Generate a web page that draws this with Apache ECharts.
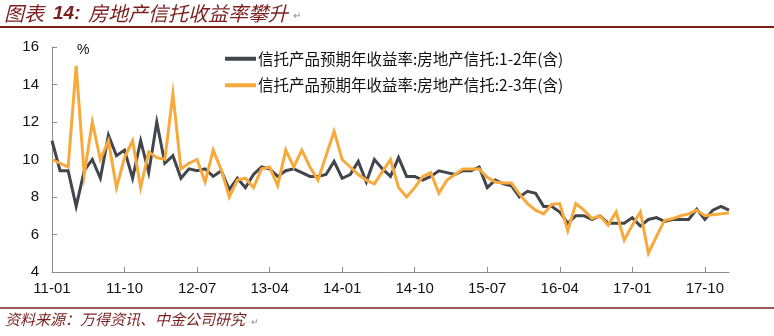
<!DOCTYPE html>
<html>
<head>
<meta charset="utf-8">
<script src="https://cdn.jsdelivr.net/npm/echarts@6/dist/echarts.min.js"></script>
<style>
  html, body { margin: 0; padding: 0; background: #fff; }
  #chart { width: 774px; height: 336px; }
</style>
</head>
<body>
<div id="chart"></div>
<script>
// Monthly categories 2011-01 .. 2018-01
const months = [];
for (let y = 11; y <= 18; y++) {
  for (let m = 1; m <= 12; m++) {
    if (y === 18 && m > 1) break;
    months.push(y + '-' + (m < 10 ? '0' + m : '' + m));
  }
}

const seriesNames = [
  '信托产品预期年收益率:房地产信托:1-2年(含)',
  '信托产品预期年收益率:房地产信托:2-3年(含)'
];

// 1-2 year real-estate trust expected yield (%)
const yield1to2 = [
  11.0, 9.4, 9.4, 7.5, 9.4, 10.0, 9.0, 11.3, 10.2, 10.5,
  9.0, 11.0, 9.3, 12.0, 9.8, 10.2, 9.0, 9.5, 9.4, 9.5,
  9.1, 9.4, 8.4, 9.0, 8.5, 9.2, 9.6, 9.5, 9.1, 9.4,
  9.5, 9.3, 9.1, 9.1, 9.2, 9.9, 9.0, 9.2, 9.9, 8.8,
  10.0, 9.5, 9.1, 10.1, 9.1, 9.1, 8.9, 9.1, 9.4, 9.3,
  9.2, 9.4, 9.4, 9.6, 8.5, 8.9, 8.7, 8.6, 8.0, 8.3,
  8.2, 7.5, 7.5, 7.2, 6.6, 7.0, 7.0, 6.8, 7.0, 6.6,
  6.6, 6.6, 6.9, 6.45, 6.8, 6.9, 6.7, 6.8, 6.8, 6.8,
  7.35, 6.8, 7.3, 7.5, 7.3
];

// 2-3 year real-estate trust expected yield (%)
const yield2to3 = [
  10.0, 9.8, 9.6, 15.0, 9.2, 12.0, 10.0, 11.0, 8.5, 10.1,
  11.0, 8.5, 10.4, 10.1, 10.0, 13.5, 9.5, 9.8, 10.0, 8.8,
  10.5, 9.45, 8.0, 8.9, 9.0, 8.5, 9.5, 9.6, 8.6, 10.5,
  9.6, 10.5, 9.6, 8.9, 10.2, 11.5, 10.0, 9.6, 9.2, 8.9,
  8.7, 9.35, 10.0, 8.5, 8.0, 8.5, 9.1, 9.3, 8.2, 8.9,
  9.2, 9.5, 9.5, 9.5, 9.05, 8.8, 8.75, 8.75, 8.15, 7.65,
  7.3, 7.1, 7.6, 7.65, 6.2, 7.65, 7.3, 6.85, 7.0, 6.5,
  7.2, 5.7, 6.5, 7.2, 5.0, 5.9, 6.75, 6.85, 7.0, 7.1,
  7.3, 7.0, 7.05, 7.1, 7.15
];

const titleText = '图表';
const titleNum = '14:';
const titleRest = '房地产信托收益率攀升';
const sourceText = '资料来源：万得资讯、中金公司研究';

const maroon = '#7a1e1e';
const cjk = '"Noto Sans CJK SC", sans-serif';
const latin = '"Liberation Sans", Arial, sans-serif';

const chart = echarts.init(document.getElementById('chart'), null, { renderer: 'canvas' });

chart.setOption({
  backgroundColor: '#ffffff',
  animation: false,
  grid: { left: 52, right: 45, top: 47, bottom: 64, containLabel: false },
  legend: {
    orient: 'vertical',
    left: 220,
    top: 46,
    itemWidth: 31,
    itemHeight: 4,
    itemGap: 11,
    icon: 'rect',
    textStyle: { fontFamily: cjk, fontSize: 15.5, color: '#111', padding: [0, 0, 0, -3] },
    data: seriesNames
  },
  xAxis: {
    type: 'category',
    data: months,
    boundaryGap: false,
    axisLine: { lineStyle: { color: '#8c8c8c', width: 1 } },
    axisTick: { inside: true, length: 5, interval: 8, lineStyle: { color: '#8c8c8c' } },
    axisLabel: { interval: 8, margin: 9, fontFamily: latin, fontSize: 15, color: '#111' },
    splitLine: { show: false }
  },
  yAxis: {
    type: 'value',
    min: 4,
    max: 16,
    interval: 2,
    axisLine: { show: true, lineStyle: { color: '#8c8c8c', width: 1 } },
    axisTick: { show: true, inside: true, length: 5, lineStyle: { color: '#8c8c8c' } },
    axisLabel: { margin: 13, fontFamily: latin, fontSize: 15, color: '#111' },
    splitLine: { show: false }
  },
  series: [
    {
      name: seriesNames[0],
      type: 'line',
      data: yield1to2,
      showSymbol: false,
      symbol: 'none',
      color: '#41454c',
      lineStyle: { width: 3, color: '#41454c', join: 'miter' },
      z: 2
    },
    {
      name: seriesNames[1],
      type: 'line',
      data: yield2to3,
      showSymbol: false,
      symbol: 'none',
      color: '#f7a93b',
      lineStyle: { width: 3, color: '#f7a93b', join: 'miter' },
      z: 3
    }
  ],
  graphic: [
    {
      type: 'text', left: 4, top: 3,
      style: { text: titleText, font: 'italic 20px ' + cjk, fill: maroon }
    },
    {
      type: 'text', left: 53, top: 4,
      style: { text: titleNum, font: 'italic bold 19px ' + latin, fill: maroon }
    },
    {
      type: 'text', left: 88, top: 3,
      style: { text: titleRest, font: 'italic 20px ' + cjk, fill: maroon }
    },
    {
      type: 'text', left: 293, top: 10,
      style: { text: '↵', font: '10px ' + cjk, fill: '#888' }
    },
    {
      type: 'line',
      shape: { x1: 0, y1: 27, x2: 774, y2: 27 },
      style: { stroke: maroon, lineWidth: 2 }
    },
    {
      type: 'text', left: 77, top: 43,
      style: { text: '%', font: '14px ' + latin, fill: '#111', align: 'center' }
    },
    {
      type: 'line',
      shape: { x1: 0, y1: 308, x2: 774, y2: 308 },
      style: { stroke: maroon, lineWidth: 1.5 }
    },
    {
      type: 'text', left: 5, top: 312,
      style: { text: sourceText, font: 'italic 15px ' + cjk, fill: maroon }
    },
    {
      type: 'text', left: 251, top: 317,
      style: { text: '↵', font: '9px ' + cjk, fill: '#888' }
    }
  ]
});
</script>
</body>
</html>
